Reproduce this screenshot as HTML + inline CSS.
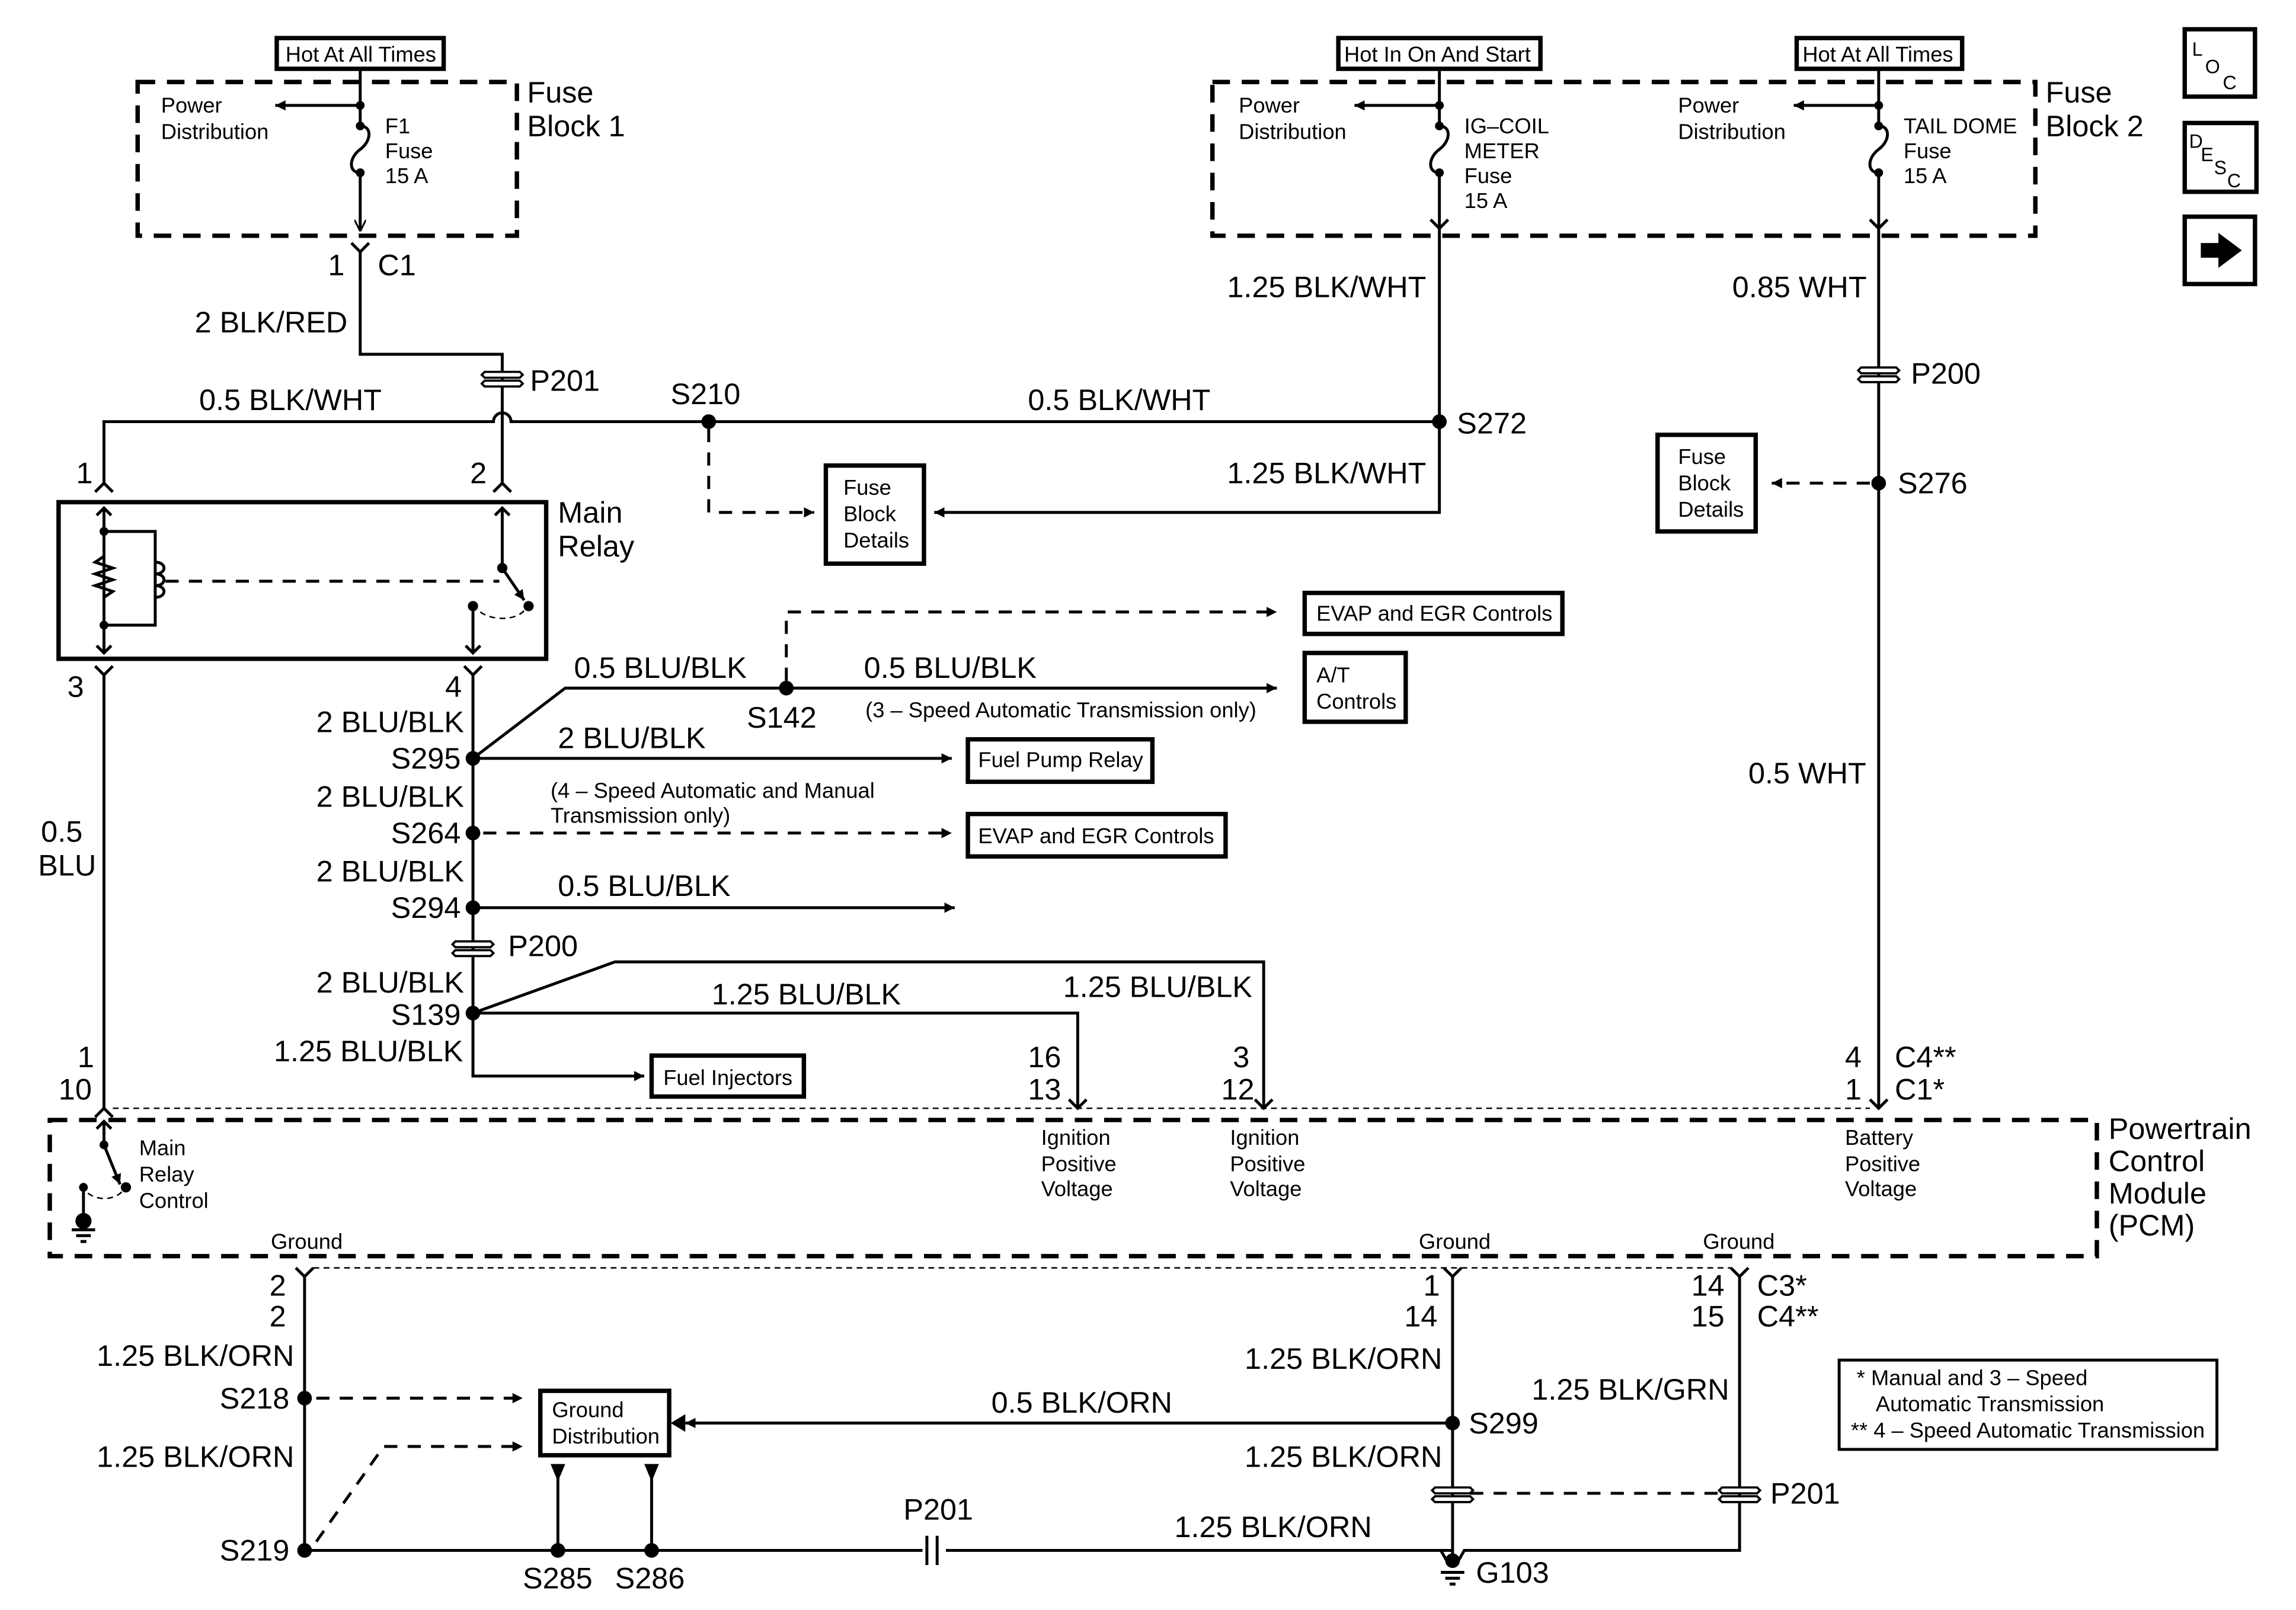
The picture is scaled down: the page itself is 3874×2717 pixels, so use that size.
<!DOCTYPE html>
<html><head><meta charset="utf-8"><style>
html,body{margin:0;padding:0;background:#fff}
svg{display:block}
text{font-family:"Liberation Sans",Arial,sans-serif;fill:#000}
.b{font-size:20.4px}
.s{font-size:14.7px}
.w{stroke:#000;stroke-width:2;fill:none}
.d{stroke:#000;stroke-width:2;fill:none;stroke-dasharray:9 7}
.dd{stroke:#000;stroke-width:3;fill:none;stroke-dasharray:12 8}
.dt{stroke:#000;stroke-width:1;fill:none;stroke-dasharray:4 3}
.bx{stroke:#000;stroke-width:3;fill:#fff}
</style></head><body>
<svg width="3874" height="2717" viewBox="0 0 1568 1099.7" preserveAspectRatio="none" xmlns="http://www.w3.org/2000/svg">
<defs>
<marker id="a" viewBox="0 0 10 10" refX="10" refY="5" markerWidth="7" markerHeight="7" markerUnits="userSpaceOnUse" orient="auto"><path d="M0,0L10,5L0,10z" fill="#000"/></marker>
<marker id="o" viewBox="0 0 10 10" refX="10" refY="5" markerWidth="8" markerHeight="8" markerUnits="userSpaceOnUse" orient="auto"><path d="M0,0L10,5L0,10" fill="none" stroke="#000" stroke-width="1.5"/></marker>
</defs>
<rect width="1568" height="1100" fill="#fff"/>

<rect x="189" y="26" width="114" height="21" class="bx" stroke-width="2"/><text x="195" y="42" class="s">Hot At All Times</text>
<rect x="914" y="26" width="138" height="21" class="bx" stroke-width="2"/><text x="918" y="42" class="s">Hot In On And Start</text>
<rect x="1227" y="26" width="113" height="21" class="bx" stroke-width="2"/><text x="1231" y="42" class="s">Hot At All Times</text>

<rect x="94" y="56" width="259" height="105" class="dd"/>
<text x="360" y="70" class="b">Fuse</text><text x="360" y="93" class="b">Block 1</text>
<text x="110" y="77" class="s">Power</text><text x="110" y="95" class="s">Distribution</text>
<path class="w" d="M246,47V86"/>
<path class="w" d="M246,72H188" marker-end="url(#a)"/>
<path class="w" d="M246,86c8,0 8,10 0,16c-8,6 -8,16 0,16V158" marker-end="url(#o)"/>
<circle cx="246" cy="72" r="3"/><circle cx="246" cy="86" r="3"/><circle cx="246" cy="118" r="3"/>
<text x="263" y="91" class="s">F1</text><text x="263" y="108" class="s">Fuse</text><text x="263" y="125" class="s">15 A</text>
<path class="w" d="M240,166L246,172L252,166M246,172V242H343V330"/>
<text x="224" y="188" class="b">1</text><text x="258" y="188" class="b">C1</text>
<text x="133" y="227" class="b">2 BLK/RED</text>
<text x="362" y="267" class="b">P201</text>

<rect x="828" y="56" width="562" height="105" class="dd"/>
<text x="1397" y="70" class="b">Fuse</text><text x="1397" y="93" class="b">Block 2</text>
<text x="846" y="77" class="s">Power</text><text x="846" y="95" class="s">Distribution</text>
<text x="1146" y="77" class="s">Power</text><text x="1146" y="95" class="s">Distribution</text>
<path class="w" d="M983,72H925" marker-end="url(#a)"/>
<path class="w" d="M1283,72H1225" marker-end="url(#a)"/>
<path class="w" d="M983,47V86c8,0 8,10 0,16c-8,6 -8,16 0,16V350H638" marker-end="url(#a)"/>
<path class="w" d="M1283,47V86c8,0 8,10 0,16c-8,6 -8,16 0,16V757"/>
<circle cx="983" cy="72" r="3"/><circle cx="983" cy="86" r="3"/><circle cx="983" cy="118" r="3"/>
<circle cx="1283" cy="72" r="3"/><circle cx="1283" cy="86" r="3"/><circle cx="1283" cy="118" r="3"/>
<path class="w" d="M977,150L983,156L989,150M1277,150L1283,156L1289,150"/>
<text x="1000" y="91" class="s">IG–COIL</text><text x="1000" y="108" class="s">METER</text><text x="1000" y="125" class="s">Fuse</text><text x="1000" y="142" class="s">15 A</text>
<text x="1300" y="91" class="s">TAIL DOME</text><text x="1300" y="108" class="s">Fuse</text><text x="1300" y="125" class="s">15 A</text>
<text x="838" y="203" class="b">1.25 BLK/WHT</text>
<text x="838" y="330" class="b">1.25 BLK/WHT</text>
<text x="1183" y="203" class="b">0.85 WHT</text>
<text x="1305" y="262" class="b">P200</text>
<circle cx="1283" cy="330" r="5"/><text x="1296" y="337" class="b">S276</text>
<path class="d" d="M1277,330H1210" marker-end="url(#a)"/>
<rect x="1132" y="297" width="67" height="66" class="bx"/>
<text x="1146" y="317" class="s">Fuse</text><text x="1146" y="335" class="s">Block</text><text x="1146" y="353" class="s">Details</text>
<text x="1194" y="535" class="b">0.5 WHT</text>
<text x="1260" y="729" class="b">4</text><text x="1294" y="729" class="b">C4**</text>
<text x="1260" y="751" class="b">1</text><text x="1294" y="751" class="b">C1*</text>

<path class="w" d="M71,330V288H337a6,6 0 0 1 12,0H983"/>
<text x="136" y="280" class="b">0.5 BLK/WHT</text>
<text x="702" y="280" class="b">0.5 BLK/WHT</text>
<circle cx="484" cy="288" r="5"/><text x="458" y="276" class="b">S210</text>
<circle cx="983" cy="288" r="5"/><text x="995" y="296" class="b">S272</text>
<path class="d" d="M484,293V350H556" marker-end="url(#a)"/>
<rect x="564" y="318" width="67" height="67" class="bx"/>
<text x="576" y="338" class="s">Fuse</text><text x="576" y="356" class="s">Block</text><text x="576" y="374" class="s">Details</text>
<path class="w" d="M65,336L71,330L77,336M337,336L343,330L349,336"/>
<text x="52" y="330" class="b">1</text><text x="321" y="330" class="b">2</text>

<rect x="40" y="343" width="333" height="107" fill="none" stroke="#000" stroke-width="3"/>
<text x="381" y="357" class="b">Main</text><text x="381" y="380" class="b">Relay</text>
<path class="w" d="M71,347V446M66,352L71,347L76,352M66,441L71,446L76,441"/>
<path class="w" d="M71,363H106V427H71"/>
<path class="w" d="M71,380l-6,4l12,4l-12,4l12,4l-12,4l12,4l-6,4"/>
<path class="w" d="M106,384c8,0 8,8 0,8c8,0 8,8 0,8c8,0 8,8 0,8" />
<circle cx="71" cy="363" r="3"/><circle cx="71" cy="427" r="3"/>
<path class="d" d="M113,397H341" stroke-width="1.5" stroke-dasharray="6 4"/>
<path class="w" d="M343,347V388M338,352L343,347L348,352"/>
<circle cx="343" cy="388" r="3.5"/><circle cx="361" cy="414" r="3.5"/><circle cx="323" cy="414" r="3.5"/>
<path class="w" d="M343,388L358,410" marker-end="url(#a)"/>
<path class="w" d="M323,414V446M318,441L323,446L328,441"/>
<path class="dt" stroke-width="1.5" d="M328,418c8,6 24,6 30,-1"/>
<path class="w" d="M65,455L71,461L77,455M317,455L323,461L329,455"/>
<text x="46" y="476" class="b">3</text><text x="304" y="476" class="b">4</text>
<path class="w" d="M71,461V757"/>
<text x="28" y="575" class="b">0.5</text><text x="26" y="598" class="b">BLU</text>

<path class="w" d="M323,461V735H440" marker-end="url(#a)"/>
<path class="w" d="M323,518L386,470H872" marker-end="url(#a)"/>
<circle cx="537" cy="470" r="5"/>
<path class="d" d="M537,465V418H872" marker-end="url(#a)"/>
<rect x="891" y="405" width="176" height="28" class="bx"/><text x="899" y="424" class="s">EVAP and EGR Controls</text>
<rect x="891" y="446" width="69" height="47" class="bx"/><text x="899" y="466" class="s">A/T</text><text x="899" y="484" class="s">Controls</text>
<text x="392" y="463" class="b">0.5 BLU/BLK</text><text x="590" y="463" class="b">0.5 BLU/BLK</text>
<text x="510" y="497" class="b">S142</text>
<text x="591" y="490" class="s">(3 – Speed Automatic Transmission only)</text>

<text x="216" y="500" class="b">2 BLU/BLK</text>
<circle cx="323" cy="518" r="5"/><text x="267" y="525" class="b">S295</text>
<path class="w" d="M323,518H650" marker-end="url(#a)"/>
<text x="381" y="511" class="b">2 BLU/BLK</text>
<rect x="661" y="505" width="126" height="29" class="bx"/><text x="668" y="524" class="s">Fuel Pump Relay</text>

<text x="216" y="551" class="b">2 BLU/BLK</text>
<circle cx="323" cy="569" r="5"/><text x="267" y="576" class="b">S264</text>
<path class="d" d="M330,569H650" marker-end="url(#a)"/>
<text x="376" y="545" class="s">(4 – Speed Automatic and Manual</text>
<text x="376" y="562" class="s">Transmission only)</text>
<rect x="661" y="556" width="176" height="29" class="bx"/><text x="668" y="576" class="s">EVAP and EGR Controls</text>

<text x="216" y="602" class="b">2 BLU/BLK</text>
<circle cx="323" cy="620" r="5"/><text x="267" y="627" class="b">S294</text>
<path class="w" d="M323,620H652" marker-end="url(#a)"/>
<text x="381" y="612" class="b">0.5 BLU/BLK</text>
<text x="347" y="653" class="b">P200</text>

<text x="216" y="678" class="b">2 BLU/BLK</text>
<circle cx="323" cy="692" r="5"/><text x="267" y="700" class="b">S139</text>
<path class="w" d="M323,692L420,657H863V757M323,692H736V757"/>
<text x="486" y="686" class="b">1.25 BLU/BLK</text>
<text x="726" y="681" class="b">1.25 BLU/BLK</text>
<text x="187" y="725" class="b">1.25 BLU/BLK</text>
<rect x="445" y="721" width="104" height="28" class="bx"/><text x="453" y="741" class="s">Fuel Injectors</text>
<text x="702" y="729" class="b">16</text><text x="702" y="751" class="b">13</text>
<text x="842" y="729" class="b">3</text><text x="834" y="751" class="b">12</text>
<text x="53" y="729" class="b">1</text><text x="40" y="751" class="b">10</text>

<path class="dt" d="M77,757H1277"/>
<path class="w" d="M65,763L71,757L77,763M730,751L736,757L742,751M857,751L863,757L869,751M1277,751L1283,757L1289,751"/>
<rect x="34" y="765" width="1398" height="93" class="dd"/>
<text x="1440" y="778" class="b">Powertrain</text><text x="1440" y="800" class="b">Control</text><text x="1440" y="822" class="b">Module</text><text x="1440" y="844" class="b">(PCM)</text>
<path class="w" d="M71,766V782M66,771L71,766L76,771"/>
<circle cx="71" cy="782" r="3"/><path class="w" d="M71,782L82,809" marker-end="url(#a)"/><circle cx="86" cy="811" r="3.5"/>
<circle cx="57" cy="811" r="3"/><path class="w" d="M57,811V832"/><circle cx="57" cy="834" r="5.5"/>
<path class="w" d="M49,840H65M52,844H62M55,848H59" stroke-width="1.5"/>
<path class="dt" d="M60,815c8,6 20,4 24,-2"/>
<text x="95" y="789" class="s">Main</text><text x="95" y="807" class="s">Relay</text><text x="95" y="825" class="s">Control</text>
<text x="711" y="782" class="s">Ignition</text><text x="711" y="800" class="s">Positive</text><text x="711" y="817" class="s">Voltage</text>
<text x="840" y="782" class="s">Ignition</text><text x="840" y="800" class="s">Positive</text><text x="840" y="817" class="s">Voltage</text>
<text x="1260" y="782" class="s">Battery</text><text x="1260" y="800" class="s">Positive</text><text x="1260" y="817" class="s">Voltage</text>
<text x="185" y="853" class="s">Ground</text><text x="969" y="853" class="s">Ground</text><text x="1163" y="853" class="s">Ground</text>

<path class="dt" d="M214,866H1182"/>
<path class="w" d="M202,866L208,872L214,866M986,866L992,872L998,866M1182,866L1188,872L1194,866"/>
<path class="w" d="M208,872V1059H992M992,872V1064M1188,872V1059H1000L996,1066M984,1059L988,1066"/>
<text x="184" y="885" class="b">2</text><text x="184" y="906" class="b">2</text>
<text x="972" y="885" class="b">1</text><text x="959" y="906" class="b">14</text>
<text x="1155" y="885" class="b">14</text><text x="1155" y="906" class="b">15</text>
<text x="1200" y="885" class="b">C3*</text><text x="1200" y="906" class="b">C4**</text>
<text x="66" y="933" class="b">1.25 BLK/ORN</text>
<circle cx="208" cy="955" r="5"/><text x="150" y="962" class="b">S218</text>
<path class="d" d="M216,955H357" marker-end="url(#a)"/>
<rect x="369" y="950" width="88" height="44" class="bx"/><text x="377" y="968" class="s">Ground</text><text x="377" y="986" class="s">Distribution</text>
<text x="66" y="1002" class="b">1.25 BLK/ORN</text>
<circle cx="208" cy="1059" r="5"/><text x="150" y="1066" class="b">S219</text>
<path class="d" d="M216,1053L262,988H357" marker-end="url(#a)"/>
<path class="w" d="M381,1059V1000M445,1059V1000"/>
<path d="M376,1000H386L381,1012zM440,1000H450L445,1012z"/>
<circle cx="381" cy="1059" r="5"/><circle cx="445" cy="1059" r="5"/>
<text x="357" y="1085" class="b">S285</text><text x="420" y="1085" class="b">S286</text>
<rect x="630" y="1049" width="16" height="20" fill="#fff"/>
<path class="w" d="M633,1049V1069M640,1049V1069" stroke-width="1.5"/>
<text x="617" y="1038" class="b">P201</text>
<text x="802" y="1050" class="b">1.25 BLK/ORN</text>
<text x="850" y="935" class="b">1.25 BLK/ORN</text>
<circle cx="992" cy="972" r="5"/><text x="1003" y="979" class="b">S299</text>
<path class="w" d="M992,972H468" marker-end="url(#a)"/>
<path d="M468,966V978L458,972z" fill="#000"/>
<text x="677" y="965" class="b">0.5 BLK/ORN</text>
<text x="850" y="1002" class="b">1.25 BLK/ORN</text>
<text x="1046" y="956" class="b">1.25 BLK/GRN</text>
<path class="d" d="M1004,1020H1176" stroke-width="1.5" stroke-dasharray="7 6"/>
<text x="1209" y="1027" class="b">P201</text>
<circle cx="992" cy="1066" r="5"/>
<path class="w" d="M984,1074H1000M987,1078H997M990,1082H994" stroke-width="1.5"/>
<text x="1008" y="1081" class="b">G103</text>

<g fill="#fff" stroke="#000" stroke-width="1.5">
<path d="M331,254h24l2,2l-2,2h-24l-2,-2zM331,260h24l2,2l-2,2h-24l-2,-2z"/>
<path d="M1271,251h24l2,2l-2,2h-24l-2,-2zM1271,257h24l2,2l-2,2h-24l-2,-2z"/>
<path d="M311,643h24l2,2l-2,2h-24l-2,-2zM311,649h24l2,2l-2,2h-24l-2,-2z"/>
<path d="M980,1016h24l2,2l-2,2h-24l-2,-2zM980,1022h24l2,2l-2,2h-24l-2,-2z"/>
<path d="M1176,1016h24l2,2l-2,2h-24l-2,-2zM1176,1022h24l2,2l-2,2h-24l-2,-2z"/>
</g>

<rect x="1256" y="929" width="258" height="61" fill="none" stroke="#000" stroke-width="2"/>
<text x="1268" y="946" class="s">* Manual and 3 – Speed</text>
<text x="1281" y="964" class="s">Automatic Transmission</text>
<text x="1264" y="982" class="s">** 4 – Speed Automatic Transmission</text>

<rect x="1492" y="20" width="48" height="46" fill="none" stroke="#000" stroke-width="3"/>
<text x="1497" y="38" style="font-size:13px">L</text><text x="1506" y="50" style="font-size:13px">O</text><text x="1518" y="61" style="font-size:13px">C</text>
<rect x="1492" y="84" width="49" height="47" fill="none" stroke="#000" stroke-width="3"/>
<text x="1495" y="101" style="font-size:13px">D</text><text x="1503" y="110" style="font-size:13px">E</text><text x="1512" y="119" style="font-size:13px">S</text><text x="1521" y="128" style="font-size:13px">C</text>
<rect x="1492" y="148" width="48" height="46" fill="none" stroke="#000" stroke-width="3"/>
<path d="M1503,166H1515V159L1531,171L1515,183V176H1503z"/>
</svg>
</body></html>
